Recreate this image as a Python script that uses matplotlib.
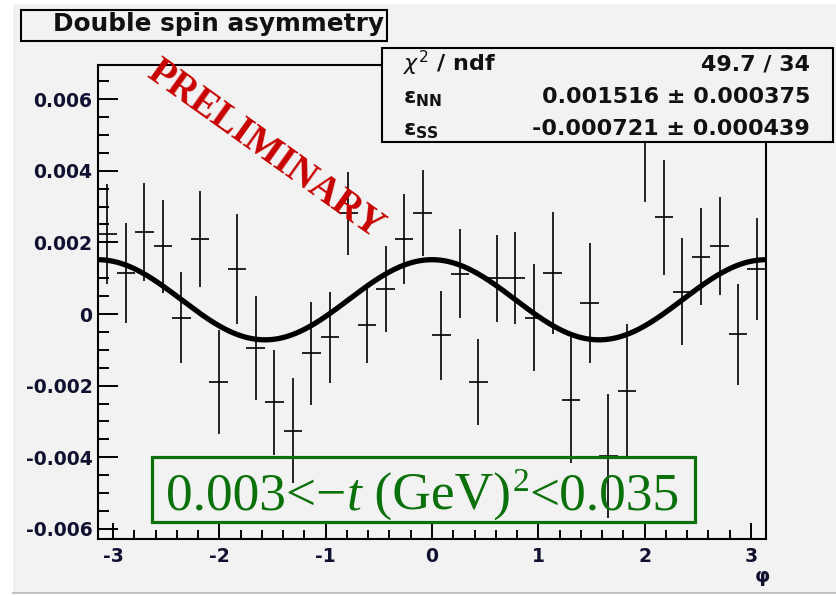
import numpy as np
import matplotlib
matplotlib.use("Agg")
import matplotlib.pyplot as plt
from matplotlib.patches import Rectangle
from matplotlib.ticker import MultipleLocator, FuncFormatter
from matplotlib.transforms import offset_copy

# asymmetry per phi bin (36 bins over [-pi, pi])
asym = [0.00223, 0.00115, 0.00230, 0.00189, -0.00010, 0.00210,
        -0.00190, 0.00126, -0.00096, -0.00247, -0.00326, -0.00110,
        -0.00065, 0.00281, -0.00031, 0.00070, 0.00209, 0.00281,
        -0.00060, 0.00113, -0.00190, 0.00100, 0.00100, -0.00010,
        0.00114, -0.00240, 0.00030, -0.00397, -0.00215, 0.00480,
        0.00270, 0.00062, 0.00160, 0.00190, -0.00057, 0.00125]
asym_err = [0.00140, 0.00140, 0.00137, 0.00130, 0.00127, 0.00134,
            0.00145, 0.00154, 0.00145, 0.00147, 0.00147, 0.00143,
            0.00127, 0.00115, 0.00105, 0.00119, 0.00125, 0.00120,
            0.00123, 0.00123, 0.00121, 0.00121, 0.00129, 0.00149,
            0.00170, 0.00175, 0.00167, 0.00173, 0.00186, 0.00166,
            0.00160, 0.00149, 0.00136, 0.00137, 0.00140, 0.00142]

# fit results
chi2, ndf = 49.7, 34
eps_nn, eps_nn_err = 0.001516, 0.000375
eps_ss, eps_ss_err = -0.000721, 0.000439

plt.rcParams['axes.unicode_minus'] = False
plt.rcParams['mathtext.fontset'] = 'custom'
plt.rcParams['mathtext.rm'] = 'DejaVu Sans'
plt.rcParams['mathtext.it'] = 'DejaVu Sans:italic'
plt.rcParams['mathtext.bf'] = 'DejaVu Sans:bold'

W, H = 837, 596
bg = '#f2f2f2'
ink = '#101030'
fig = plt.figure(figsize=(W / 100, H / 100), dpi=100, facecolor=bg)


def fx(px):
    return px / W


def fy(py):
    return 1 - py / H


# canvas edges
fig.patches.append(Rectangle((0, 0), fx(13), 1, transform=fig.transFigure,
                             facecolor='white', edgecolor='none', zorder=0))
fig.patches.append(Rectangle((0, fy(4)), 1, 4 / H, transform=fig.transFigure,
                             facecolor='white', edgecolor='none', zorder=0))
fig.patches.append(Rectangle((0, 0), 1, 3 / H, transform=fig.transFigure,
                             facecolor='white', edgecolor='none', zorder=0))
fig.lines.append(plt.Line2D([fx(13), 1], [fy(593), fy(593)], transform=fig.transFigure,
                            color='#b8b8b8', lw=1.2))

ax = fig.add_axes([fx(98), fy(539), fx(766) - fx(98), fy(65) - fy(539)])
ax.set_facecolor(bg)

nbins = len(asym)
edges = np.linspace(-np.pi, np.pi, nbins + 1)
centers = 0.5 * (edges[:-1] + edges[1:])
half = 0.5 * (edges[1] - edges[0])

ax.errorbar(centers, asym, yerr=asym_err, xerr=half, fmt='none',
            ecolor='black', elinewidth=1.2, capsize=0, zorder=3)

phi = np.linspace(-np.pi, np.pi, 500)
fit = eps_nn * np.cos(phi) ** 2 + eps_ss * np.sin(phi) ** 2
ax.plot(phi, fit, color='black', lw=3.8, zorder=4)

ax.set_xlim(-np.pi, np.pi)
ax.set_ylim(-0.00628, 0.00695)

ax.xaxis.set_major_locator(MultipleLocator(1))
ax.xaxis.set_minor_locator(MultipleLocator(0.2))
ax.yaxis.set_major_locator(MultipleLocator(0.002))
ax.yaxis.set_minor_locator(MultipleLocator(0.0005))
ax.xaxis.set_major_formatter(FuncFormatter(lambda v, p: f'{v:.0f}'))
ax.yaxis.set_major_formatter(FuncFormatter(lambda v, p: '0' if abs(v) < 1e-9 else f'{v:.3f}'))

for s in ax.spines.values():
    s.set_linewidth(1.5)
ax.tick_params(axis='both', which='both', direction='in', top=False, right=False,
               colors='black', labelcolor=ink, width=1.4)
ax.tick_params(axis='x', which='major', length=11.5, pad=6)
ax.tick_params(axis='x', which='minor', length=6.5)
ax.tick_params(axis='y', which='major', length=14.5, pad=4)
ax.tick_params(axis='y', which='minor', length=8)
for lab in ax.get_xticklabels() + ax.get_yticklabels():
    lab.set_fontfamily('DejaVu Sans')
    lab.set_fontweight('bold')
    lab.set_fontsize(13.5)

fig.text(fx(762), fy(577), 'φ', ha='center', va='center', fontsize=14,
         color=ink, fontweight='bold')

# title box
fig.patches.append(Rectangle((fx(21), fy(41)), fx(387) - fx(21), fy(10) - fy(41),
                             transform=fig.transFigure, facecolor=bg,
                             edgecolor='black', lw=1.5, zorder=5))
fig.text(fx(53), fy(31), 'Double spin asymmetry', ha='left', va='baseline',
         fontsize=17.8, fontweight='bold', color='#111111', zorder=6)

# fit statistics box
fig.patches.append(Rectangle((fx(382), fy(142)), fx(833) - fx(382), fy(48) - fy(142),
                             transform=fig.transFigure, facecolor=bg,
                             edgecolor='black', lw=1.5, zorder=5))
rows = [(r'$\chi^{2}$ / ndf', f'{chi2:.1f} / {ndf}'),
        (r'ε$_{\mathbf{NN}}$', f'{eps_nn:.6f} ± {eps_nn_err:.6f}'),
        (r'ε$_{\mathbf{SS}}$', f'{eps_ss:.6f} ± {eps_ss_err:.6f}')]
for (name, val), yb in zip(rows, [71, 103, 135]):
    fig.text(fx(403), fy(yb), name, ha='left', va='baseline', fontsize=16,
             fontweight='bold', color='#111111', zorder=6)
    fig.text(fx(810), fy(yb), val, ha='right', va='baseline', fontsize=16,
             fontweight='bold', color='#111111', zorder=6)

# preliminary stamp
fig.text(fx(265), fy(150), 'PRELIMINARY', ha='center', va='center',
         rotation=-35.5, rotation_mode='anchor', fontsize=28,
         fontfamily='Liberation Serif', fontweight='bold', color='#c80000', zorder=2)

# t range label, written piece by piece so only t is italic
green = '#0a700a'
fig.patches.append(Rectangle((fx(152), fy(522)), fx(695) - fx(152), fy(457) - fy(522),
                             transform=fig.transFigure, facecolor='none',
                             edgecolor=green, lw=2.3, zorder=5))
pieces = [('0.003<−', 'normal'), ('t', 'italic'), (' (GeV)', 'normal')]
renderer = fig.canvas.get_renderer()
trans = fig.transFigure
for s, style in pieces:
    t = fig.text(fx(166), fy(510), s, ha='left', va='baseline', fontsize=38.5,
                 fontfamily='Liberation Serif', fontstyle=style, color=green,
                 transform=trans, zorder=6)
    w = t.get_window_extent(renderer).width
    trans = offset_copy(trans, fig=fig, x=w, y=0, units='dots')
sup = fig.text(fx(166), fy(510), '2', ha='left', va='baseline', fontsize=24,
               fontfamily='Liberation Serif', color=green,
               transform=offset_copy(trans, fig=fig, x=1, y=19, units='dots'), zorder=6)
w = sup.get_window_extent(renderer).width
fig.text(fx(166), fy(510), '<0.035', ha='left', va='baseline', fontsize=38.5,
         fontfamily='Liberation Serif', color=green,
         transform=offset_copy(trans, fig=fig, x=w + 1, y=0, units='dots'), zorder=6)

fig.savefig('out.png', dpi=100, facecolor=fig.get_facecolor())
